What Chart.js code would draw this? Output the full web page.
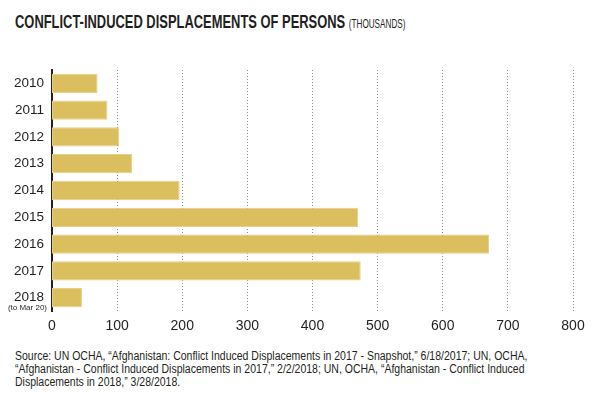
<!DOCTYPE html>
<html>
<head>
<meta charset="utf-8">
<script src="https://cdn.jsdelivr.net/npm/chart.js@4.4.1/dist/chart.umd.min.js"></script>
<style>
  html, body { margin: 0; padding: 0; background: #fff; }
  body { width: 613px; height: 399px; position: relative; overflow: hidden; font-family: "Liberation Sans", Arial, sans-serif; color: #231f20; }
  .title { position: absolute; left: 15px; top: 11px; font-weight: bold; font-size: 19px; white-space: nowrap; transform: scaleX(0.68); transform-origin: left top; }
  .title small { font-weight: normal; font-size: 12px; }
  .chart-wrap { position: absolute; left: 0; top: 0; width: 613px; height: 340px; }
  .source { position: absolute; left: 15px; top: 350px; font-size: 12.5px; line-height: 13px; white-space: nowrap; transform: scaleX(0.84); transform-origin: left top; }
</style>
</head>
<body>
  <div class="title">CONFLICT-INDUCED DISPLACEMENTS OF PERSONS <small>(THOUSANDS)</small></div>
  <div class="chart-wrap"><canvas id="displacementChart"></canvas></div>
  <div class="source">Source: UN OCHA, “Afghanistan: Conflict Induced Displacements in 2017 - Snapshot,” 6/18/2017; UN, OCHA,<br>“Afghanistan - Conflict Induced Displacements in 2017,” 2/2/2018; UN, OCHA, “Afghanistan - Conflict Induced<br>Displacements in 2018,” 3/28/2018.</div>

<script>
  const years = ["2010", "2011", "2012", "2013", "2014", "2015", "2016", "2017", "2018"];
  const yearNotes = ["", "", "", "", "", "", "", "", "(to Mar 20)"];
  const displaced = [70, 85, 103, 123, 196, 470, 671, 474, 46];
  const xTicks = [0, 100, 200, 300, 400, 500, 600, 700, 800];

  const FONT = "'Liberation Sans', Arial, sans-serif";
  const INK = "#231f20";

  // small second line under the 2018 label
  const notePlugin = {
    id: "yearNotes",
    afterDraw(chart) {
      const { ctx } = chart;
      const y = chart.scales.y;
      ctx.save();
      ctx.font = "8px " + FONT;
      ctx.fillStyle = INK;
      ctx.textAlign = "right";
      ctx.textBaseline = "middle";
      yearNotes.forEach((note, i) => {
        if (!note) return;
        ctx.fillText(note, y.right - 5, y.getPixelForValue(i) + 10);
      });
      ctx.restore();
    },
  };

  new Chart(document.getElementById("displacementChart"), {
    type: "bar",
    data: {
      labels: years,
      datasets: [{
        data: displaced,
        backgroundColor: "#dbbe5e",
        borderColor: "#e6d08a",
        borderWidth: 1,
        borderSkipped: false,
        barPercentage: 0.8,
        categoryPercentage: 0.9,
      }],
    },
    options: {
      indexAxis: "y",
      responsive: true, maintainAspectRatio: false,
      animation: false,
      layout: { padding: { top: 70, right: 40, left: 0, bottom: 0 } },
      plugins: { legend: { display: false }, tooltip: { enabled: false } },
      scales: {
        x: {
          min: 0, max: 800,
          afterBuildTicks: (s) => { s.ticks = xTicks.map((v) => ({ value: v })); },
          afterFit: (s) => { s.height = 29; },
          ticks: { color: INK, font: { family: FONT, size: 14 }, padding: 7, maxRotation: 0 },
          grid: {
            drawTicks: false,
            color: "#8c8c8c",
            lineWidth: (c) => (c.index === 0 ? 0 : 1),
          },
          border: { display: false, dash: [1, 2] },
        },
        y: {
          afterFit: (s) => { s.width = 52; },
          ticks: {
            color: INK, font: { family: FONT, size: 13.5 }, padding: 8,
            callback: (v, i) => years[i],
          },
          grid: { display: false, drawTicks: false },
          border: { display: true, color: "#231f20", width: 2 },
        },
      },
    },
    plugins: [notePlugin],
  });
</script>
</body>
</html>
